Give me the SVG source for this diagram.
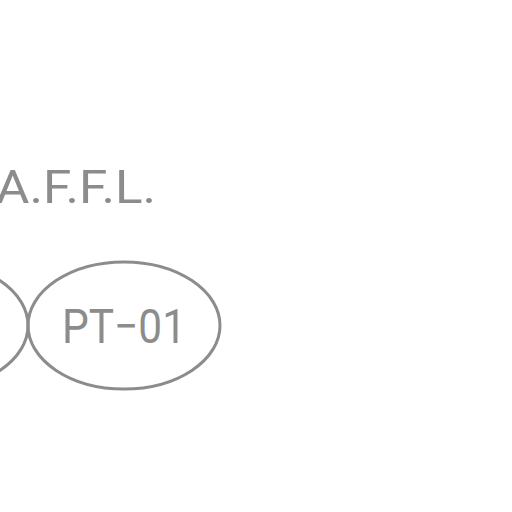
<svg xmlns="http://www.w3.org/2000/svg" width="512" height="512" viewBox="0 0 512 512">
<style>
.lbl{font-family:Roboto,"DejaVu Sans",sans-serif;fill:#8c8c8c;font-weight:400}
.tag{fill:none;stroke:#8c8c8c;stroke-width:3}
</style>
<rect width="512" height="512" fill="#ffffff"/>
<g id="affl">
<text class="lbl" x="-4" y="203" font-size="47" textLength="160" lengthAdjust="spacingAndGlyphs">A.F.F.L.</text>
</g>
<g id="tag-left">
<ellipse class="tag" cx="-68" cy="325.5" rx="96" ry="63.5"/>
</g>
<g id="tag-pt01">
<ellipse class="tag" cx="124" cy="325.5" rx="96" ry="63.5"/>
<text class="lbl" x="62" y="343" font-size="49" textLength="124" lengthAdjust="spacingAndGlyphs">PT−01</text>
</g>
<g id="connectors"/>
</svg>
